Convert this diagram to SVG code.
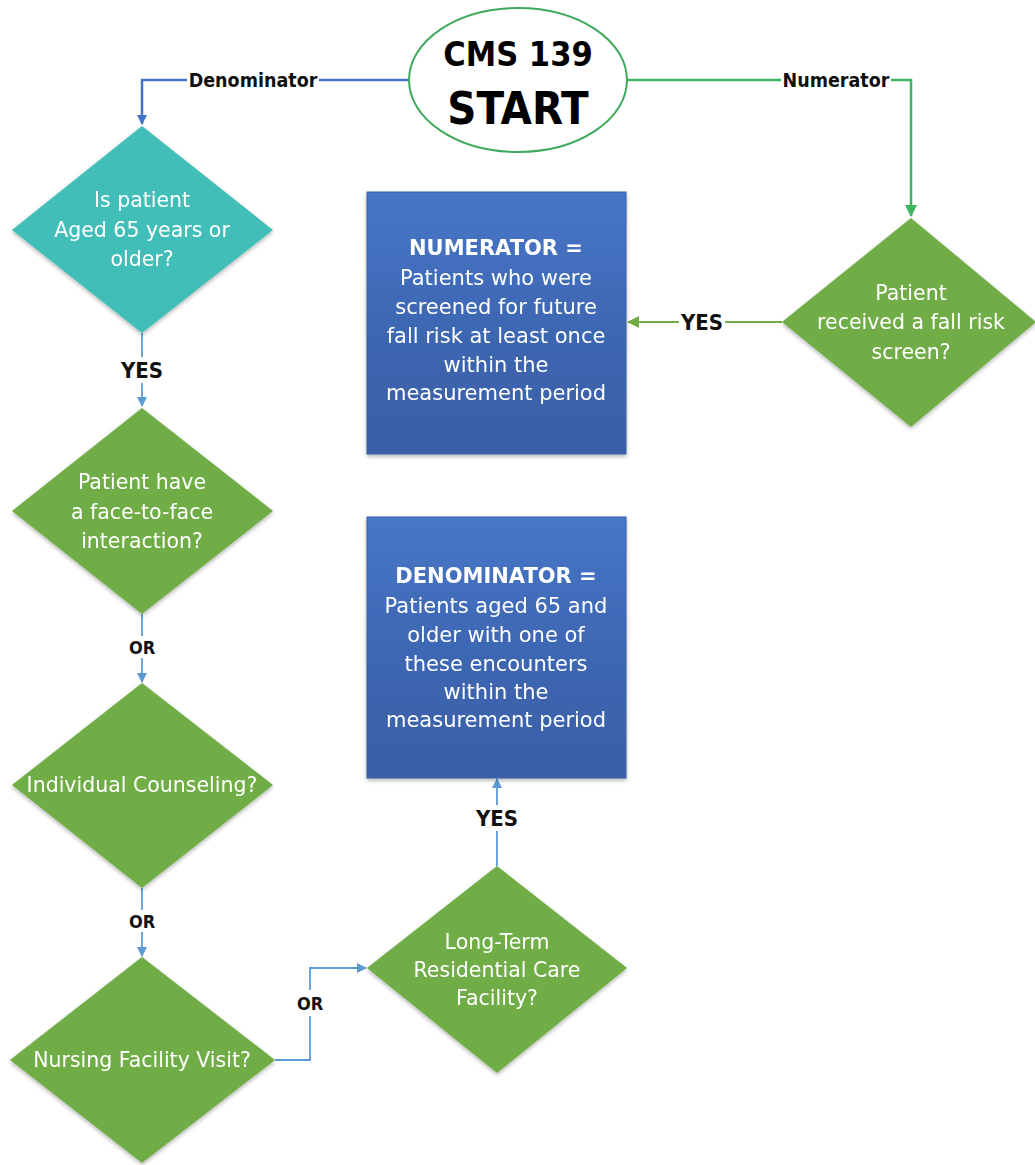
<svg xmlns="http://www.w3.org/2000/svg" width="1035" height="1165" viewBox="0 0 1035 1165">
<defs>
<linearGradient id="boxg" x1="0" y1="0" x2="0" y2="1">
<stop offset="0" stop-color="#4777c8"/>
<stop offset="0.5" stop-color="#3e67b3"/>
<stop offset="1" stop-color="#3a5fa6"/>
</linearGradient>
<filter id="sh" x="-10%" y="-10%" width="120%" height="120%">
<feGaussianBlur in="SourceAlpha" stdDeviation="2"/>
<feOffset dx="0" dy="2"/>
<feComponentTransfer><feFuncA type="linear" slope="0.3"/></feComponentTransfer>
<feMerge><feMergeNode/><feMergeNode in="SourceGraphic"/></feMerge>
</filter>
<marker id="ab" markerWidth="10" markerHeight="10" refX="9" refY="5" orient="auto" markerUnits="userSpaceOnUse" viewBox="0 0 10 10">
<path d="M0,0 L10,5 L0,10 z" fill="#4472c4"/>
</marker>
<marker id="al" markerWidth="10" markerHeight="10" refX="9" refY="5" orient="auto" markerUnits="userSpaceOnUse" viewBox="0 0 10 10">
<path d="M0,0 L10,5 L0,10 z" fill="#5b9bd5"/>
</marker>
<marker id="ag" markerWidth="12" markerHeight="12" refX="11" refY="6" orient="auto" markerUnits="userSpaceOnUse" viewBox="0 0 12 12">
<path d="M0,0 L12,6 L0,12 z" fill="#3cb563"/>
</marker>
<marker id="ag2" markerWidth="12" markerHeight="12" refX="11" refY="6" orient="auto" markerUnits="userSpaceOnUse" viewBox="0 0 12 12">
<path d="M0,0 L12,6 L0,12 z" fill="#70ad47"/>
</marker>
</defs>
<style>
text { font-family: "DejaVu Sans", sans-serif; }
.dt { fill: #ffffff; font-size: 20.5px; text-anchor: middle; }
.bt { fill: #ffffff; font-size: 21px; text-anchor: middle; }
.lbl { fill: #111111; font-family: "DejaVu Sans Condensed", "DejaVu Sans", sans-serif; font-size: 19.5px; font-weight: bold; text-anchor: middle; }
.yes { fill: #111111; font-family: "DejaVu Sans Condensed", "DejaVu Sans", sans-serif; font-size: 22px; font-weight: bold; text-anchor: middle; }
.or { fill: #111111; font-family: "DejaVu Sans Condensed", "DejaVu Sans", sans-serif; font-size: 18px; font-weight: bold; text-anchor: middle; }
.title { fill: #000000; font-family: "DejaVu Sans Condensed", "DejaVu Sans", sans-serif; font-weight: bold; text-anchor: middle; }
.green { fill: #70ad47; }
.teal { fill: #43beb8; }
.box { fill: url(#boxg); stroke: #3a5ea6; stroke-width: 1; }
.cb { fill: none; stroke: #4472c4; stroke-width: 2.5; }
.cl { fill: none; stroke: #5b9bd5; stroke-width: 1.8; }
.cg { fill: none; stroke: #3cb563; stroke-width: 2.5; }
.cg2 { fill: none; stroke: #70ad47; stroke-width: 2; }
</style>
<rect x="0" y="0" width="1035" height="1165" fill="#ffffff"/>

<g id="connectors">
<path class="cb" d="M409,80 L142,80 L142,124" marker-end="url(#ab)"/>
<rect x="187" y="68" width="132" height="24" fill="#ffffff"/>
<text class="lbl" x="253" y="87">Denominator</text>

<path class="cg" d="M627,80 L911,80 L911,216" marker-end="url(#ag)"/>
<rect x="781" y="68" width="110" height="24" fill="#ffffff"/>
<text class="lbl" x="836" y="87">Numerator</text>

<path class="cg2" d="M782,322 L628,322" marker-end="url(#ag2)"/>
<rect x="679" y="309" width="46" height="26" fill="#ffffff"/>
<text class="yes" x="702" y="330">YES</text>

<path class="cl" d="M142,333 L142,406" marker-end="url(#al)"/>
<rect x="115" y="357" width="54" height="26" fill="#ffffff"/>
<text class="yes" x="142" y="378">YES</text>

<path class="cl" d="M142,614 L142,682" marker-end="url(#al)"/>
<rect x="122" y="636" width="40" height="22" fill="#ffffff"/>
<text class="or" x="142" y="654">OR</text>

<path class="cl" d="M142,888 L142,956" marker-end="url(#al)"/>
<rect x="122" y="910" width="40" height="22" fill="#ffffff"/>
<text class="or" x="142" y="928">OR</text>

<path class="cl" d="M275,1060 L310,1060 L310,968 L366,968" marker-end="url(#al)"/>
<rect x="292" y="990" width="36" height="26" fill="#ffffff"/>
<text class="or" x="310" y="1010">OR</text>

<path class="cl" d="M497,866 L497,779" marker-end="url(#al)"/>
<rect x="472" y="805" width="50" height="26" fill="#ffffff"/>
<text class="yes" x="497" y="826">YES</text>
</g>

<g id="start">
<ellipse cx="518" cy="80" rx="109" ry="72" fill="#ffffff" stroke="#3fa95c" stroke-width="2"/>
<text class="title" x="518" y="66" font-size="34">CMS 139</text>
<text class="title" x="518" y="124" font-size="45">START</text>
</g>

<g id="age" filter="url(#sh)">
<polygon class="teal" points="142,126 273,230 142,333 12,230"/>
<text class="dt" x="142" y="207">Is patient</text>
<text class="dt" x="142" y="237">Aged 65 years or</text>
<text class="dt" x="142" y="266">older?</text>
</g>

<g id="facetoface" filter="url(#sh)">
<polygon class="green" points="142,408 273,511 142,614 12,511"/>
<text class="dt" x="142" y="489">Patient have</text>
<text class="dt" x="142" y="519">a face-to-face</text>
<text class="dt" x="142" y="548">interaction?</text>
</g>

<g id="counseling" filter="url(#sh)">
<polygon class="green" points="142,683 273,785 142,888 12,785"/>
<text class="dt" x="142" y="792">Individual Counseling?</text>
</g>

<g id="nursing" filter="url(#sh)">
<polygon class="green" points="142,957 275,1060 142,1163 10,1060"/>
<text class="dt" x="142" y="1067">Nursing Facility Visit?</text>
</g>

<g id="longterm" filter="url(#sh)">
<polygon class="green" points="497,866 627,968 497,1073 367,968"/>
<text class="dt" x="497" y="949">Long-Term</text>
<text class="dt" x="497" y="977">Residential Care</text>
<text class="dt" x="497" y="1005">Facility?</text>
</g>

<g id="fallrisk" filter="url(#sh)">
<polygon class="green" points="911,218 1036,322 911,427 782,322"/>
<text class="dt" x="911" y="300">Patient</text>
<text class="dt" x="911" y="329">received a fall risk</text>
<text class="dt" x="911" y="359">screen?</text>
</g>

<g id="numerator" filter="url(#sh)">
<rect class="box" x="367" y="192" width="259" height="262"/>
<text class="bt" x="496" y="255" font-weight="bold">NUMERATOR =</text>
<text class="bt" x="496" y="285">Patients who were</text>
<text class="bt" x="496" y="314">screened for future</text>
<text class="bt" x="496" y="343">fall risk at least once</text>
<text class="bt" x="496" y="372">within the</text>
<text class="bt" x="496" y="400">measurement period</text>
</g>

<g id="denominator" filter="url(#sh)">
<rect class="box" x="367" y="517" width="259" height="261"/>
<text class="bt" x="496" y="583" font-weight="bold">DENOMINATOR =</text>
<text class="bt" x="496" y="613">Patients aged 65 and</text>
<text class="bt" x="496" y="642">older with one of</text>
<text class="bt" x="496" y="671">these encounters</text>
<text class="bt" x="496" y="699">within the</text>
<text class="bt" x="496" y="727">measurement period</text>
</g>
</svg>
